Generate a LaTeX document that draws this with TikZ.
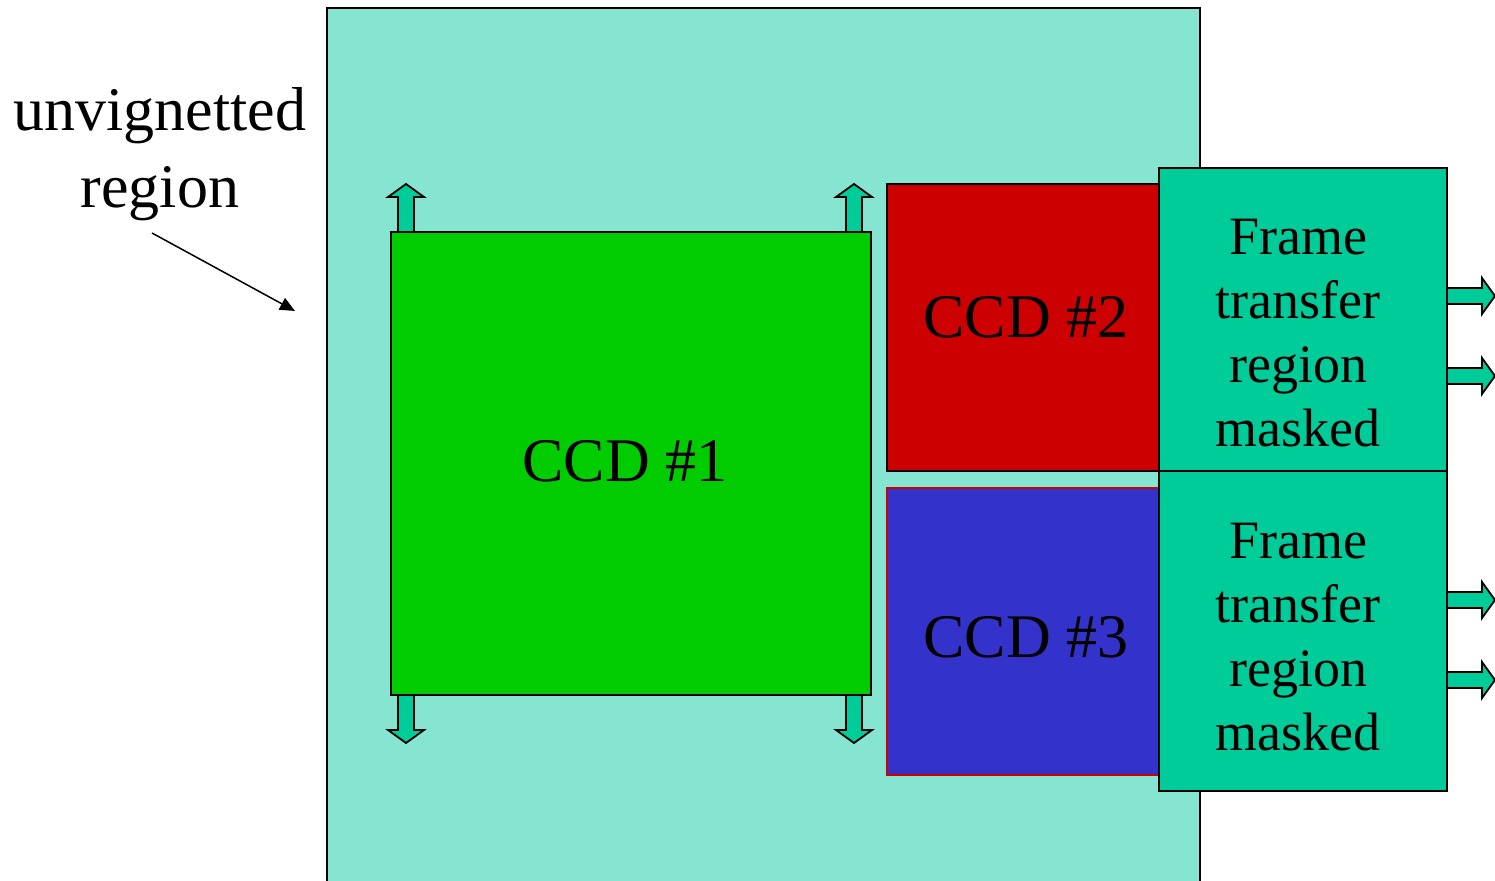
\documentclass[tikz,border=0pt]{standalone}
\usepackage{fontspec}
\setmainfont{Liberation Serif}
\usetikzlibrary{calc,arrows.meta}
\definecolor{aquabg}{RGB}{134,229,208}
\definecolor{ccdgreen}{RGB}{0,204,0}
\definecolor{ccdred}{RGB}{204,0,0}
\definecolor{ccdblue}{RGB}{51,51,204}
\definecolor{ftteal}{RGB}{0,204,153}
\begin{document}
\begin{tikzpicture}[x=1pt,y=-1pt,
  box/.style={draw=black,line width=2pt,inner sep=0pt,rectangle},
  bigfont/.style={font=\fontsize{62}{77}\selectfont},
  ftfont/.style={font=\fontsize{54}{64}\selectfont,align=center},
  arrowbody/.style={draw=black,fill=ftteal,line width=1.8pt,line join=miter},
  blockarrow/.pic={\path[arrowbody] (0,-8) -- (35,-8) -- (35,-18) -- (48,0) -- (35,18) -- (35,8) -- (0,8) -- cycle;}
]
\useasboundingbox (0,0) rectangle (1495,880);
\clip (0,0) rectangle (1495,880);
% background region
\node[box,fill=aquabg,minimum width=873pt,minimum height=882pt] (bg) at (763.5,449) {};
% CCD boxes (placed first as coordinates for arrows)
\path (631,463.5) coordinate (c1c);
% block arrows
\pic[rotate=90] at (406,232) {blockarrow};
\pic[rotate=90] at (854,232) {blockarrow};
\pic[rotate=-90] at (406,695) {blockarrow};
\pic[rotate=-90] at (854,695) {blockarrow};
\pic at (1447,296) {blockarrow};
\pic at (1447,376) {blockarrow};
\pic at (1447,600) {blockarrow};
\pic at (1447,680) {blockarrow};
% boxes
\node[box,fill=ccdgreen,minimum width=480pt,minimum height=463pt] (ccd1) at (c1c) {};
\node[box,fill=ccdred,minimum width=272pt,minimum height=287pt] (ccd2) at (1023,327.5) {};
\node[box,draw=ccdred,fill=ccdblue,minimum width=272pt,minimum height=287pt] (ccd3) at (1023,631.5) {};
\node[box,fill=ftteal,minimum width=288pt,minimum height=303pt] (ft1) at (1303,319.5) {};
\node[box,fill=ftteal,minimum width=288pt,minimum height=320pt] (ft2) at (1303,631) {};
% texts
\node[bigfont,anchor=base,inner sep=0pt] (t1) at (625,481) {CCD \#1};
\node[bigfont,anchor=base,inner sep=0pt] (t2) at (1026,337) {CCD \#2};
\node[bigfont,anchor=base,inner sep=0pt] (t3) at (1026,657) {CCD \#3};
\node[ftfont,inner sep=0pt] (f1) at (1298,333) {Frame\\transfer\\region\\masked};
\node[ftfont,inner sep=0pt] (f2) at (1298,637) {Frame\\transfer\\region\\masked};
\node[bigfont,align=center,inner sep=0pt] (lbl) at (160,154) {unvignetted\\region};
\coordinate (lstart) at (152,233);
\coordinate (lend) at (295,311);
\draw[line width=1.5pt,-{Triangle[length=15pt,width=13pt]}] (lstart) -- (lend);
\end{tikzpicture}
\end{document}
